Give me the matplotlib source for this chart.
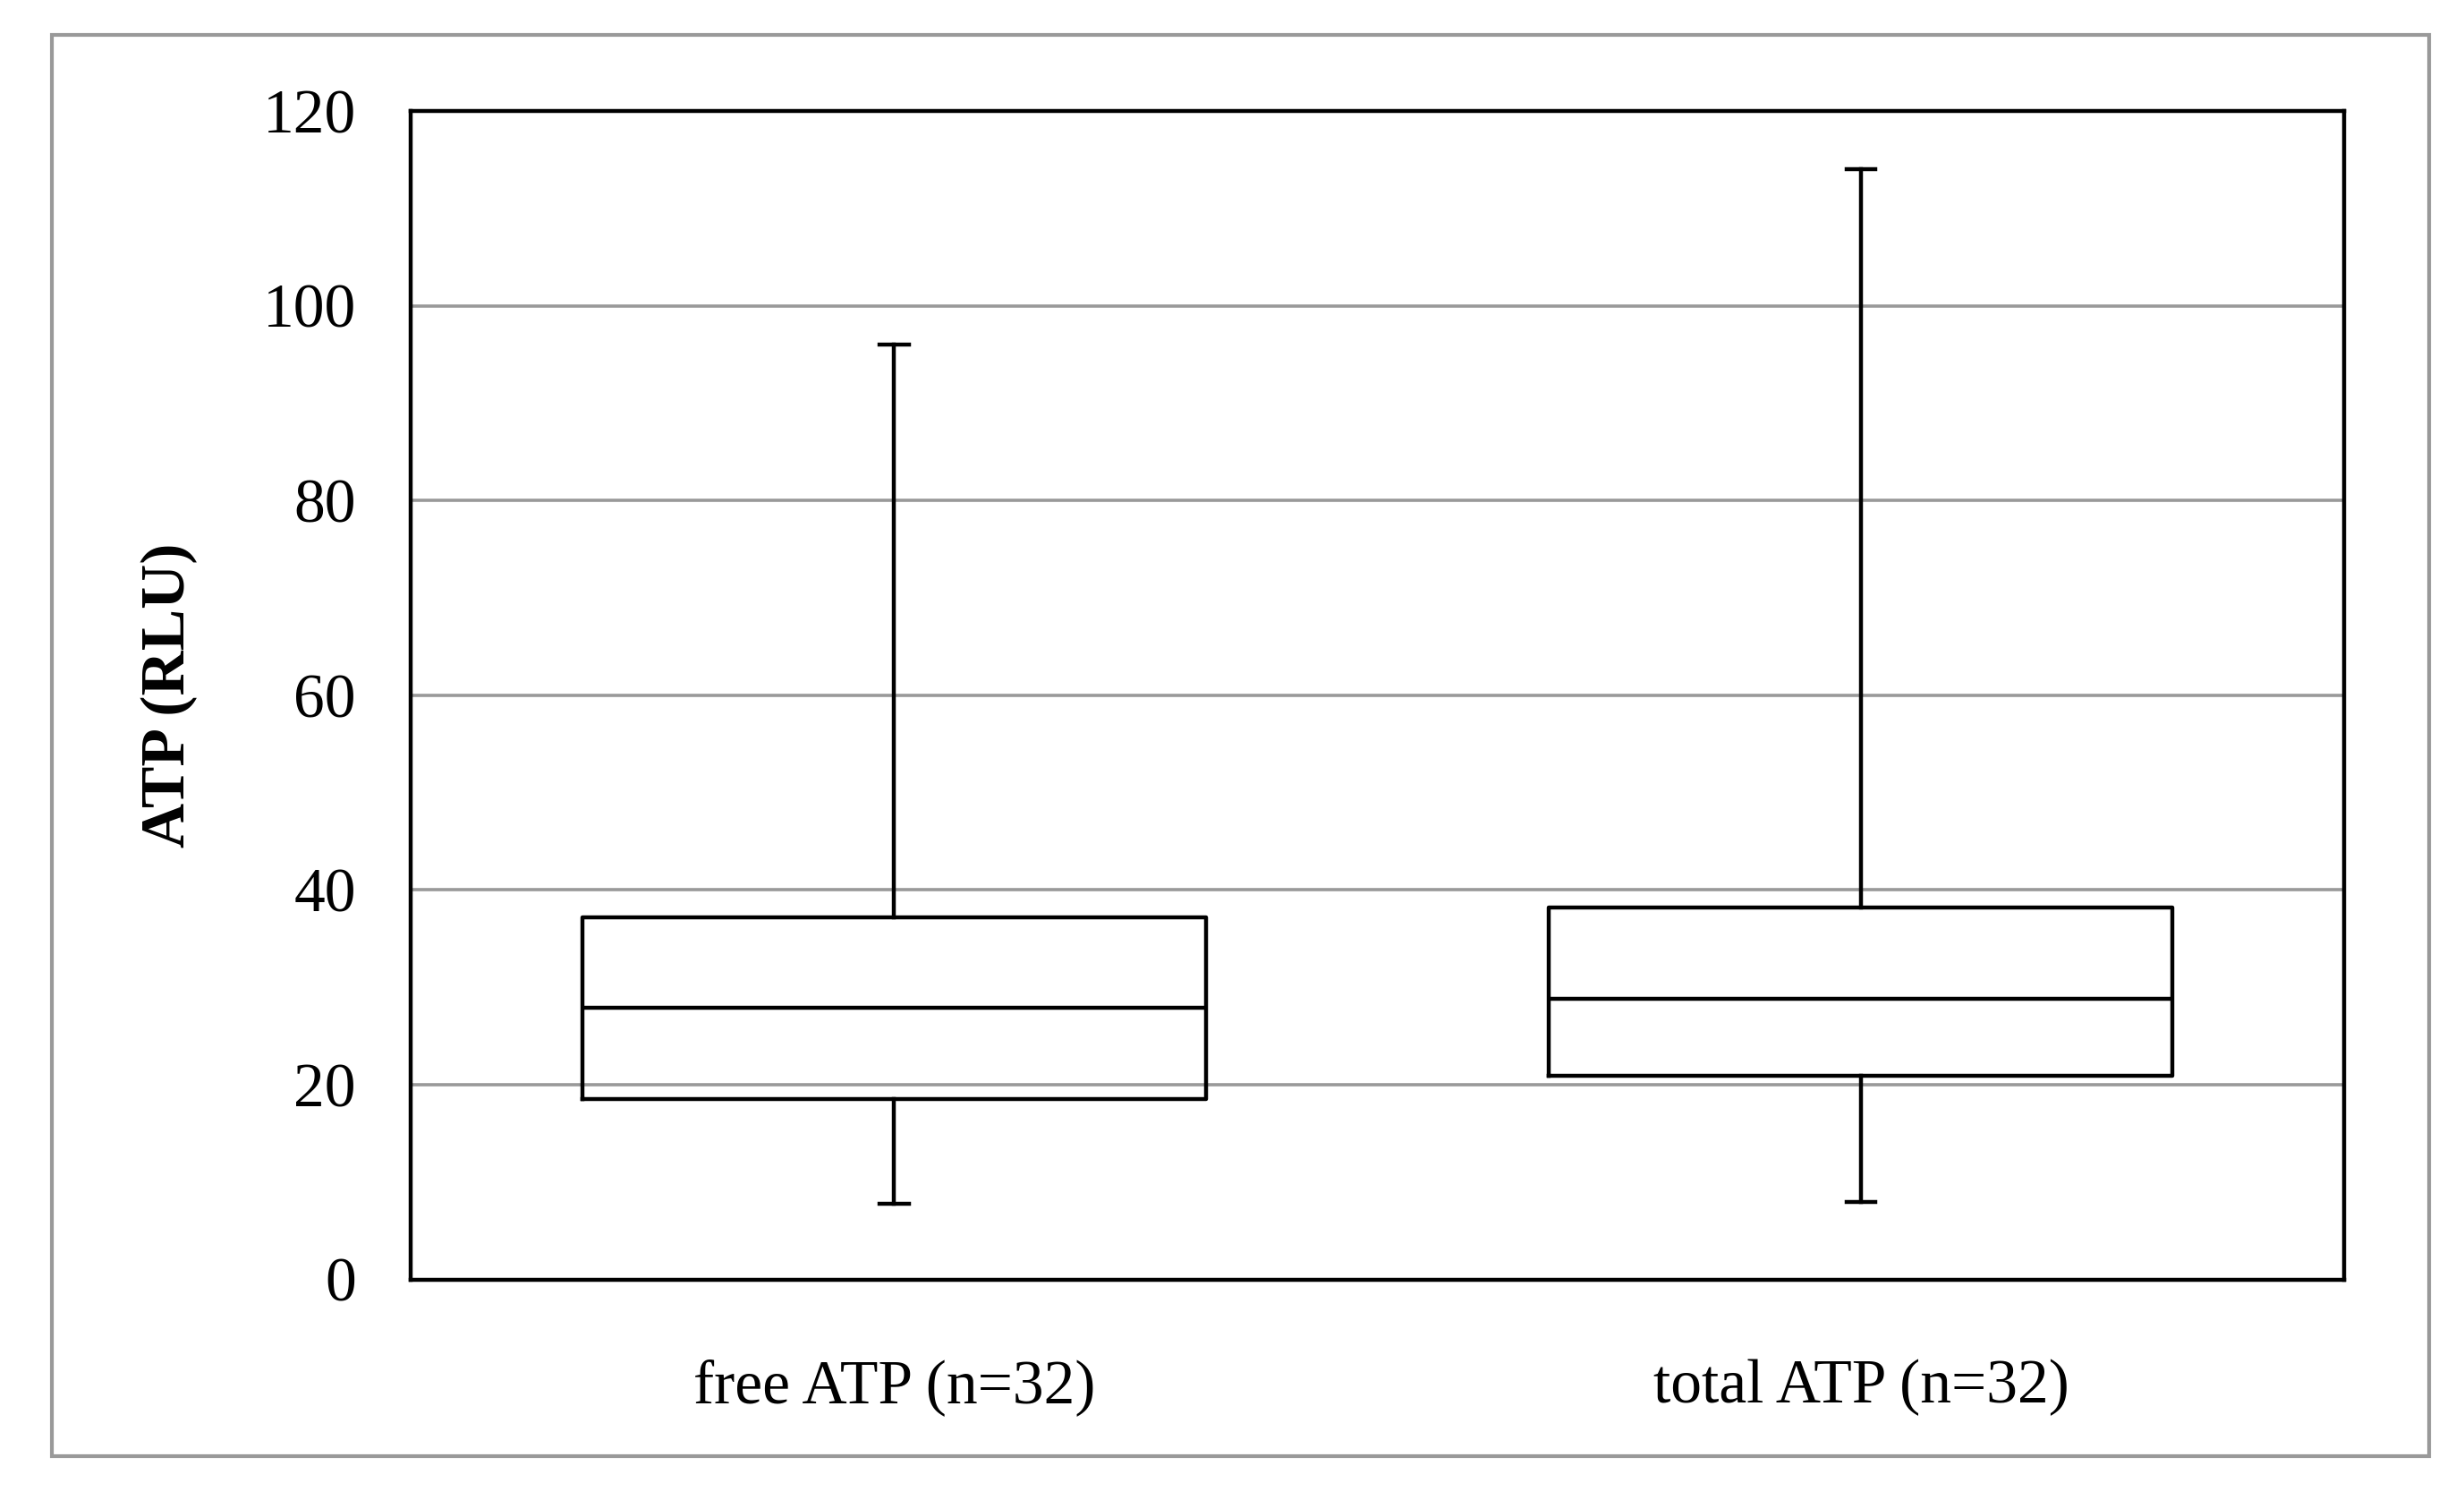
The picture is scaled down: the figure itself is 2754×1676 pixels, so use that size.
import matplotlib
matplotlib.use("Agg")
import matplotlib.pyplot as plt
import matplotlib.patches as patches

# box statistics
labels = ['free ATP (n=32)', 'total ATP (n=32)']
mins = [7.8, 8.0]
q1s = [18.5, 20.9]
medians = [27.9, 28.8]
q3s = [37.2, 38.2]
maxs = [96.0, 114.0]

plt.rcParams['font.family'] = ['Liberation Serif', 'DejaVu Serif']

fig = plt.figure(figsize=(13.77, 8.38), dpi=200)
ax = fig.add_axes([0.1667, 0.147, 0.7897 - 0.005, 0.779])

# grey outer frame
fig.patches.append(patches.Rectangle((0.021, 0.029), 0.965, 0.948, transform=fig.transFigure,
                                     fill=False, edgecolor='#999999', linewidth=1.5))

stats = []
for i in range(len(labels)):
    stats.append({'whislo': mins[i], 'q1': q1s[i], 'med': medians[i],
                  'q3': q3s[i], 'whishi': maxs[i], 'fliers': [], 'label': labels[i]})

line = dict(color='black', linewidth=1.6)
ax.bxp(stats, positions=[0.5, 1.5], widths=0.645, showfliers=False,
       boxprops=line, medianprops=line, whiskerprops=line, capprops=line,
       capwidths=0.03)

ax.set_xlim(0, 2)
ax.set_ylim(0, 120)
ax.set_yticks(range(0, 121, 20))
ax.yaxis.grid(True, color='#999999', linewidth=1.3)
ax.set_axisbelow(True)
ax.tick_params(axis='both', length=0, labelsize=25, pad=22)
ax.tick_params(axis='x', pad=32)
for s in ax.spines.values():
    s.set_linewidth(1.6)
ax.set_ylabel('ATP (RLU)', fontsize=25, fontweight='bold', labelpad=26)

fig.savefig('out.png', dpi=200)
